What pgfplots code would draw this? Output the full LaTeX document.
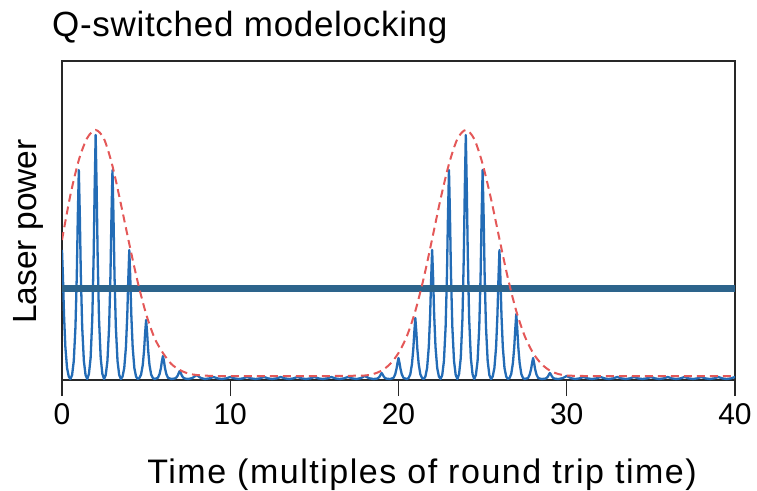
\documentclass[border=0pt]{standalone}
\usepackage{fontspec}
\setmainfont{Liberation Sans}
\newfontfamily\widefont[LetterSpace=4.5]{Liberation Sans}
\newfontfamily\titlefont[LetterSpace=2]{Liberation Sans}
\usepackage{pgfplots}
\pgfplotsset{compat=1.18}
\definecolor{pulse}{RGB}{35,108,182}
\definecolor{avg}{RGB}{45,100,140}
\definecolor{env}{RGB}{228,88,88}
\definecolor{axisc}{RGB}{40,40,40}
\begin{document}
\begin{tikzpicture}
\useasboundingbox (-62bp,-111bp) rectangle (695bp,380bp);
\begin{axis}[
  at={(0,0)}, anchor=south west,
  scale only axis, width=673bp, height=319bp,
  xmin=0, xmax=40, ymin=0, ymax=319,
  axis line style={axisc, line width=1.6bp},
  xtick={0,10,20,30,40}, ytick=\empty,
  xtick pos=bottom, tick align=outside, major tick length=16bp,
  tick style={axisc, line width=1.4bp},
  /pgf/number format/assume math mode=true,
  xticklabel style={font=\fontsize{30bp}{36bp}\selectfont, anchor=base, yshift=-28bp, inner sep=0pt},
  title={Q-switched modelocking},
  title style={at={(axis description cs:-0.0149,1.0596)}, anchor=base west, inner sep=0pt, font=\titlefont\fontsize{35bp}{42bp}\selectfont},
  xlabel={Time (multiples of round trip time)},
  xlabel style={at={(axis description cs:0.535,-0.3229)}, anchor=base, inner sep=0pt, font=\widefont\fontsize{34bp}{40bp}\selectfont},
  ylabel={Laser power},
  ylabel style={at={(axis description cs:-0.03715,0.4655)}, anchor=base, inner sep=0pt, font=\fontsize{33.5bp}{40bp}\selectfont},
]
% mode-locked pulse train
\addplot[pulse, line width=2.3bp, line join=round] coordinates {
(0,130) (0.06,101) (0.12,65) (0.2,33) (0.3,12) (0.4,3.5) (0.5,1)
(0.6,5) (0.7,19) (0.8,53) (0.88,105) (0.94,164) (1,210) (1.06,164) (1.12,105) (1.2,53) (1.3,19) (1.4,5) (1.5,1)
(1.6,6) (1.7,22) (1.8,61) (1.88,123) (1.94,191) (2,245) (2.06,191) (2.12,123) (2.2,61) (2.3,22) (2.4,6) (2.5,1)
(2.6,5) (2.7,19) (2.8,53) (2.88,105) (2.94,164) (3,210) (3.06,164) (3.12,105) (3.2,53) (3.3,19) (3.4,5) (3.5,1)
(3.6,3.5) (3.7,12) (3.8,33) (3.88,65) (3.94,101) (4,130) (4.06,101) (4.12,65) (4.2,33) (4.3,12) (4.4,3.5) (4.5,1)
(4.6,2) (4.7,5.4) (4.8,15) (4.88,30) (4.94,47) (5,60) (5.06,47) (5.12,30) (5.2,15) (5.3,5.4) (5.4,2) (5.5,1)
(5.7,2.2) (5.8,6) (5.88,12) (5.94,19) (6,24) (6.06,19) (6.12,12) (6.2,6) (6.3,2.2) (6.5,1)
(6.7,1.5) (6.8,2.5) (6.88,4.5) (6.94,7) (7,9) (7.06,7) (7.12,4.5) (7.2,2.5) (7.3,1.5) (7.5,1)
(7.75,2) (8,5) (8.25,2) (8.5,1)
(8.75,1.6) (9,3) (9.25,1.6) (9.5,1)
(9.75,1.6) (10,3) (10.25,1.6) (10.5,1)
(10.75,1.6) (11,3) (11.25,1.6) (11.5,1)
(11.75,1.6) (12,3) (12.25,1.6) (12.5,1)
(12.75,1.6) (13,3) (13.25,1.6) (13.5,1)
(13.75,1.6) (14,3) (14.25,1.6) (14.5,1)
(14.75,1.6) (15,3) (15.25,1.6) (15.5,1)
(15.75,1.6) (16,3) (16.25,1.6) (16.5,1)
(16.75,1.6) (17,3) (17.25,1.6) (17.5,1)
(17.75,1.8) (18,4) (18.25,1.8) (18.5,1)
(18.7,1.3) (18.8,2) (18.88,3.5) (18.94,5.5) (19,7) (19.06,5.5) (19.12,3.5) (19.2,2) (19.3,1.3) (19.5,1)
(19.7,2) (19.8,5.5) (19.88,11) (19.94,17) (20,22) (20.06,17) (20.12,11) (20.2,5.5) (20.3,2) (20.5,1)
(20.6,2) (20.7,5.6) (20.8,16) (20.88,31) (20.94,48) (21,62) (21.06,48) (21.12,31) (21.2,16) (21.3,5.6) (21.4,2) (21.5,1)
(21.6,3.5) (21.7,12) (21.8,33) (21.88,65) (21.94,101) (22,130) (22.06,101) (22.12,65) (22.2,33) (22.3,12) (22.4,3.5) (22.5,1)
(22.6,5) (22.7,19) (22.8,53) (22.88,105) (22.94,164) (23,210) (23.06,164) (23.12,105) (23.2,53) (23.3,19) (23.4,5) (23.5,1)
(23.6,6) (23.7,22) (23.8,61) (23.88,123) (23.94,191) (24,245) (24.06,191) (24.12,123) (24.2,61) (24.3,22) (24.4,6) (24.5,1)
(24.6,5) (24.7,19) (24.8,53) (24.88,105) (24.94,164) (25,210) (25.06,164) (25.12,105) (25.2,53) (25.3,19) (25.4,5) (25.5,1)
(25.6,3.5) (25.7,12) (25.8,33) (25.88,65) (25.94,101) (26,130) (26.06,101) (26.12,65) (26.2,33) (26.3,12) (26.4,3.5) (26.5,1)
(26.6,2) (26.7,6) (26.8,17) (26.88,33) (26.94,51) (27,66) (27.06,51) (27.12,33) (27.2,17) (27.3,6) (27.4,2) (27.5,1)
(27.7,2) (27.8,5.5) (27.88,11) (27.94,17) (28,22) (28.06,17) (28.12,11) (28.2,5.5) (28.3,2) (28.5,1)
(28.7,1.3) (28.8,2) (28.88,3.5) (28.94,5.5) (29,7) (29.06,5.5) (29.12,3.5) (29.2,2) (29.3,1.3) (29.5,1)
(29.75,1.8) (30,4) (30.25,1.8) (30.5,1)
(30.75,1.6) (31,3) (31.25,1.6) (31.5,1)
(31.75,1.6) (32,3) (32.25,1.6) (32.5,1)
(32.75,1.6) (33,3) (33.25,1.6) (33.5,1)
(33.75,1.6) (34,3) (34.25,1.6) (34.5,1)
(34.75,1.6) (35,3) (35.25,1.6) (35.5,1)
(35.75,1.6) (36,3) (36.25,1.6) (36.5,1)
(36.75,1.6) (37,3) (37.25,1.6) (37.5,1)
(37.75,1.6) (38,3) (38.25,1.6) (38.5,1)
(38.75,1.6) (39,3) (39.25,1.6) (39.5,1)
(39.75,1.6) (40,3)
};
% average power
\addplot[avg, line width=7bp] coordinates {(0,92) (40,92)};
% Q-switch envelope
\addplot[env, line width=2bp, dash pattern=on 8bp off 5bp, smooth] coordinates {
(0,140) (0.5,185) (1,220) (1.5,242) (2,250) (2.5,241) (3,214) (3.5,176) (4,136) (4.5,98)
(5,66) (5.5,42) (6,27) (6.5,16) (7,10) (7.5,6.5) (8,5) (9,4) (10,4) (11,4) (12,4) (13,4)
(14,4) (15,4) (16,4) (17,4.2) (18,4.5) (18.5,6) (19,9.4) (19.5,16) (20,27) (20.5,44) (21,69)
(21.5,102) (22,141) (22.5,181) (23,216) (23.5,241) (24,250) (24.5,241) (25,216) (25.5,181)
(26,141) (26.5,102) (27,69) (27.5,44) (28,27) (28.5,16) (29,9.4) (29.5,6) (30,4.5) (31,4)
(32,4) (33,4) (34,4) (35,4) (36,4) (37,4) (38,4) (39,4) (40,4)
};
\end{axis}
\end{tikzpicture}
\end{document}
